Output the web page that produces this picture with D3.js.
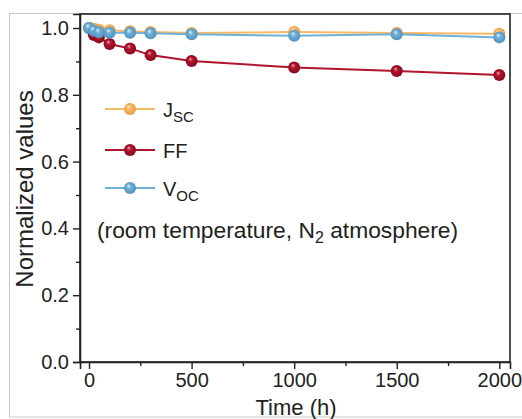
<!DOCTYPE html>
<html>
<head>
<meta charset="utf-8">
<script src="https://cdn.jsdelivr.net/npm/d3@7"></script>
<style>
  body { margin: 0; background: #fff; }
  svg { display: block; font-family: "Liberation Sans", Arial, sans-serif; }
</style>
</head>
<body>
<svg id="chart" width="522" height="419"></svg>
<script>
// data
const times = [0, 24, 48, 100, 200, 300, 500, 1000, 1500, 2000];
const jsc = [1.0, 0.998, 0.995, 0.993, 0.99, 0.988, 0.985, 0.988, 0.985, 0.983];
const ff = [1.0, 0.979, 0.972, 0.952, 0.939, 0.919, 0.901, 0.882, 0.871, 0.859];
const voc = [1.0, 0.992, 0.987, 0.986, 0.986, 0.984, 0.981, 0.977, 0.981, 0.972];
const xTicks = [0, 500, 1000, 1500, 2000];
const yTicks = [0, 0.2, 0.4, 0.6, 0.8, 1.0];

const series = [
    { name: "J", sub: "SC", values: jsc, color: "#f8b964", light: "#fde6c4", dark: "#e89a3c" },
    { name: "FF", sub: "", values: ff, color: "#b0152d", light: "#f2a0a8", dark: "#85061a" },
    { name: "V", sub: "OC", values: voc, color: "#6fb0d8", light: "#e2f1fa", dark: "#4a8fbc" }
];

const margin = { top: 14, right: 12, bottom: 57, left: 80 };
const width = 522 - margin.left - margin.right;
const height = 419 - margin.top - margin.bottom;

const svgEl = d3.select("#chart");

// light frame around the whole figure
svgEl.append("rect")
    .attr("x", 9.5).attr("y", 13.5)
    .attr("width", 520).attr("height", 403.5)
    .attr("fill", "none")
    .attr("stroke", "#c8c8c8")
    .attr("stroke-width", 1);

const defs = svgEl.append("defs");
series.forEach((s, i) => {
    const g = defs.append("radialGradient")
        .attr("id", `ball-${i}`)
        .attr("cx", "50%").attr("cy", "50%").attr("r", "55%")
        .attr("fx", "38%").attr("fy", "30%");
    g.append("stop").attr("offset", "0%").attr("stop-color", s.light);
    g.append("stop").attr("offset", "35%").attr("stop-color", s.color);
    g.append("stop").attr("offset", "100%").attr("stop-color", s.dark);
});

const svg = svgEl.append("g")
    .attr("transform", `translate(${margin.left},${margin.top})`);

const x = d3.scaleLinear().domain([-44, 2052]).range([0, width]);
const y = d3.scaleLinear().domain([0, 1.042]).range([height, 0]);

// frame of the plot
svg.append("rect")
    .attr("width", width).attr("height", height)
    .attr("fill", "none")
    .attr("stroke", "#222")
    .attr("stroke-width", 1.6);

// axes
svg.append("g")
    .attr("transform", `translate(0,${height})`)
    .call(d3.axisBottom(x).tickValues(xTicks).tickSize(7).tickPadding(4).tickFormat(d3.format("d")));
svg.append("g")
    .attr("transform", `translate(0,${height})`)
    .call(d3.axisBottom(x).tickValues([250, 750, 1250, 1750]).tickSize(4).tickFormat(""))
    .select(".domain").remove();

svg.append("g")
    .call(d3.axisLeft(y).tickValues(yTicks).tickSize(7).tickPadding(4).tickFormat(d3.format(".1f")));
svg.append("g")
    .call(d3.axisLeft(y).tickValues([0.1, 0.3, 0.5, 0.7, 0.9]).tickSize(4).tickFormat(""))
    .select(".domain").remove();

svg.selectAll(".domain").attr("stroke", "#222").attr("stroke-width", 1.6);
svg.selectAll(".tick line").attr("stroke", "#222").attr("stroke-width", 1.4);
svg.selectAll(".tick text").attr("font-size", 20).attr("fill", "#222")
    .attr("font-family", "Liberation Sans, Arial, sans-serif");

// lines and markers, red under the others
const line = d3.line().x((d, i) => x(times[i])).y(d => y(d));
const drawOrder = [1, 0, 2];
drawOrder.forEach(i => {
    const s = series[i];
    svg.append("path")
        .datum(s.values)
        .attr("fill", "none")
        .attr("stroke", s.color)
        .attr("stroke-width", 2)
        .attr("d", line);
});
drawOrder.forEach(i => {
    const s = series[i];
    svg.selectAll(`.pt-${i}`)
        .data(s.values)
        .enter()
        .append("circle")
        .attr("class", `pt-${i}`)
        .attr("cx", (d, j) => x(times[j]))
        .attr("cy", d => y(d))
        .attr("r", 6)
        .attr("fill", `url(#ball-${i})`);
});

// legend
const legendY = [109, 150, 188];
series.forEach((s, i) => {
    const g = svgEl.append("g").attr("transform", `translate(0,${legendY[i]})`);
    g.append("line")
        .attr("x1", 105).attr("x2", 155)
        .attr("stroke", s.color).attr("stroke-width", 2);
    g.append("circle")
        .attr("cx", 130).attr("r", 6)
        .attr("fill", `url(#ball-${i})`);
    const t = g.append("text")
        .attr("x", 163).attr("y", 8)
        .attr("font-size", 20).attr("fill", "#222")
        .text(s.name);
    if (s.sub) {
        t.append("tspan")
            .attr("font-size", 15)
            .attr("dy", 5)
            .text(s.sub);
    }
});

// annotation
const note = svgEl.append("text")
    .attr("x", 97).attr("y", 238)
    .attr("font-size", 22.8).attr("fill", "#222");
note.append("tspan").text("(room temperature, N");
note.append("tspan").attr("font-size", 16).attr("dy", 5).text("2");
note.append("tspan").attr("dy", -5).text(" atmosphere)");

// axis titles
svgEl.append("text")
    .attr("x", 296).attr("y", 415)
    .attr("text-anchor", "middle")
    .attr("font-size", 22).attr("fill", "#222")
    .text("Time (h)");

svgEl.append("text")
    .attr("transform", "translate(33,189) rotate(-90)")
    .attr("text-anchor", "middle")
    .attr("font-size", 24).attr("fill", "#222")
    .text("Normalized values");
</script>
</body>
</html>
